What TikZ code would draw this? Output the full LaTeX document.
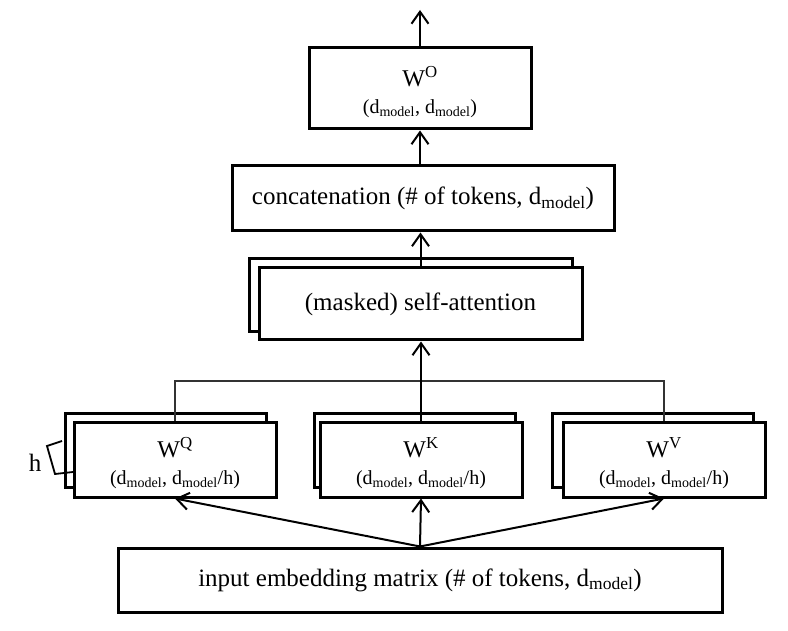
\documentclass[tikz,border=0pt]{standalone}
\usepackage{fontspec}
\setmainfont{Liberation Serif}
\usetikzlibrary{arrows.meta}
\newcommand{\dmod}{d\textsubscript{model}}
\newcommand{\wmat}[1]{\rule{0pt}{27pt}{\fontsize{24}{27}\selectfont W\textsuperscript{#1}}}

\begin{document}
\begin{tikzpicture}[x=1pt, y=-1pt,
    box/.style={draw, line width=3pt, fill=white, inner sep=0pt, align=center},
    bigtext/.style={font=\fontsize{25}{30}\selectfont},
    wtext/.style={font=\fontsize{20}{27}\selectfont},
    arr/.style={-{Straight Barb[length=12pt,width=17pt]}, line width=2pt},
    link/.style={line width=1.3pt, black!80}]
    \useasboundingbox (0,0) rectangle (788,631);

    % input
    \node[box, bigtext, minimum width=604pt, minimum height=64pt] (input) at (420,580) {input embedding matrix (\# of tokens, \dmod)};

    % heads (back copies first)
    \node[box, minimum width=201pt, minimum height=74pt] (qback) at (165.5,450) {};
    \node[box, minimum width=201pt, minimum height=74pt] (kback) at (414.5,450) {};
    \node[box, minimum width=201pt, minimum height=74pt] (vback) at (653,450) {};
    \node[box, wtext, minimum width=202pt, minimum height=75pt] (qbox) at (175,459.5) {\wmat{Q}\\(\dmod, \dmod/h)};
    \node[box, wtext, minimum width=202pt, minimum height=75pt] (kbox) at (421,459.5) {\wmat{K}\\(\dmod, \dmod/h)};
    \node[box, wtext, minimum width=202pt, minimum height=75pt] (vbox) at (664,459.5) {\wmat{V}\\(\dmod, \dmod/h)};

    % h bracket
    \draw[line width=1.8pt] (62,441) -- (47,446) -- (55,474) -- (73,472);
    \node[bigtext] (h) at (35,463) {h};

    % attention
    \node[box, minimum width=323pt, minimum height=73pt] (attnback) at (410.5,295.5) {};
    \node[box, bigtext, minimum width=323pt, minimum height=72pt] (attn) at (420.5,304) {(masked) self-attention};

    % concatenation
    \node[box, bigtext, minimum width=382pt, minimum height=65pt] (concat) at (423,198.5) {concatenation (\# of tokens, \dmod)};

    % output projection
    \node[box, wtext, minimum width=222pt, minimum height=81pt] (wo) at (420,88.5) {\wmat{O}\\(\dmod, \dmod)};
    \coordinate (out) at (420,10);

    % arrows
    \draw[arr] (input.north) -- (qbox.south);
    \draw[arr] (input.north) -- (kbox.south);
    \draw[arr] (input.north) -- (vbox.south);
    \coordinate (join) at (420,381);
    \draw[link] (qbox.north) -- (qbox.north |- join) -- (vbox.north |- join) -- (vbox.north);
    \draw[arr] (kbox.north) -- (kbox.north |- attn.south);
    \draw[arr] (attn.north) -- (attn.north |- concat.south);
    \draw[arr] (wo.south |- concat.north) -- (wo.south);
    \draw[arr] (wo.north) -- (out);
\end{tikzpicture}
\end{document}
